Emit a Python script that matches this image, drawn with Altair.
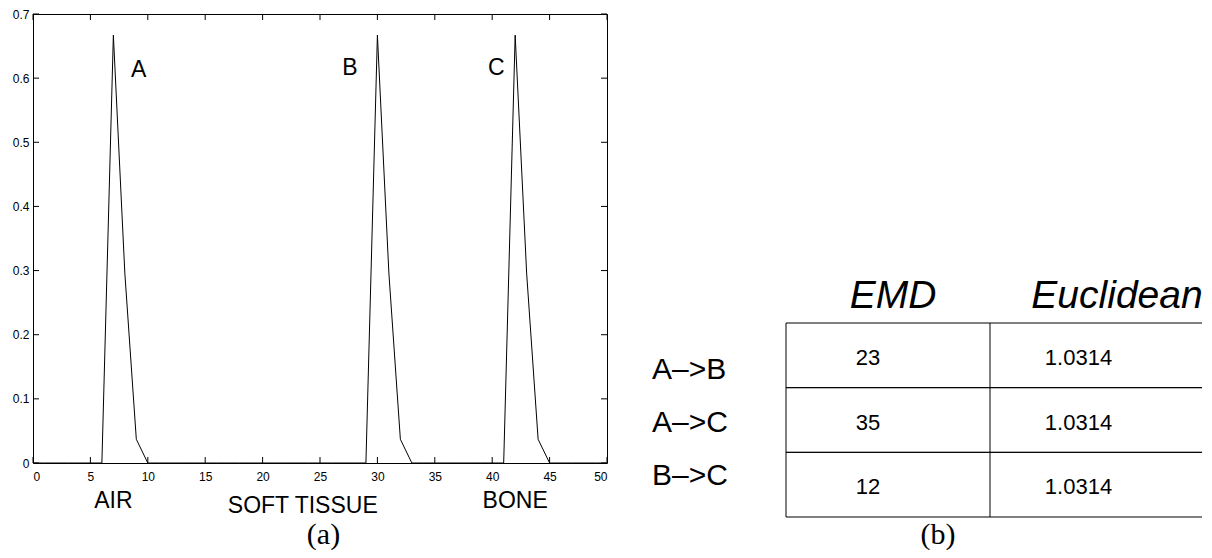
import altair as alt
import pandas as pd

# ---------------- data ----------------
bins = list(range(51))
freq = [0, 0, 0, 0, 0, 0, 0, 0.667, 0.296, 0.037, 0,      # 0-10
        0, 0, 0, 0, 0, 0, 0, 0, 0, 0,                     # 11-20
        0, 0, 0, 0, 0, 0, 0, 0, 0, 0.667,                 # 21-30
        0.296, 0.037, 0, 0, 0, 0, 0, 0, 0, 0,             # 31-40
        0, 0.667, 0.296, 0.037, 0, 0, 0, 0, 0, 0]         # 41-50

x_ticks = [0, 5, 10, 15, 20, 25, 30, 35, 40, 45, 50]
y_ticks = [0, 0.1, 0.2, 0.3, 0.4, 0.5, 0.6, 0.7]

peak_names = ["A", "B", "C"]
peak_label_x = [9.2, 27.6, 40.35]
peak_label_y = [0.602, 0.605, 0.605]

regions = ["AIR", "SOFT TISSUE", "BONE"]
region_x = [7, 23.5, 42]

pairs = ["A\u2013>B", "A\u2013>C", "B\u2013>C"]
columns = ["EMD", "Euclidean"]
emd_values = ["23", "35", "12"]
euclid_values = ["1.0314", "1.0314", "1.0314"]

# ---------------- styling ----------------
SANS = "Liberation Sans"
SERIF = "Liberation Serif"
W, H = 574, 449

xs = alt.Scale(domain=[0, 50], nice=False, zero=False)
ys = alt.Scale(domain=[0, 0.7], nice=False)
xaxis = alt.Axis(values=x_ticks, ticks=False, domain=False, grid=False, labelFontSize=12,
                 labelPadding=8, labelFont=SANS, labelColor="black", title=None)
yaxis = alt.Axis(values=y_ticks, format="~g", ticks=False, domain=False, grid=False,
                 labelFontSize=12, labelPadding=4, labelFont=SANS, labelColor="black", title=None)

hist_df = pd.DataFrame({"bin": bins, "freq": freq})
line = alt.Chart(hist_df).mark_line(color="black", strokeWidth=1).encode(
    x=alt.X("bin:Q", scale=xs, axis=xaxis),
    y=alt.Y("freq:Q", scale=ys, axis=yaxis),
)

xt = pd.DataFrame({"t": x_ticks})
yt = pd.DataFrame({"t": y_ticks})
tick_b = alt.Chart(xt).mark_rule(color="black", strokeWidth=1).encode(
    x=alt.X("t:Q", scale=xs, axis=xaxis), y=alt.value(H), y2=alt.value(H - 6))
tick_t = alt.Chart(xt).mark_rule(color="black", strokeWidth=1).encode(
    x=alt.X("t:Q", scale=xs, axis=xaxis), y=alt.value(0), y2=alt.value(6))
tick_l = alt.Chart(yt).mark_rule(color="black", strokeWidth=1).encode(
    y=alt.Y("t:Q", scale=ys, axis=yaxis), x=alt.value(0), x2=alt.value(6))
tick_r = alt.Chart(yt).mark_rule(color="black", strokeWidth=1).encode(
    y=alt.Y("t:Q", scale=ys, axis=yaxis), x=alt.value(W), x2=alt.value(W - 6))

pk_df = pd.DataFrame({"name": peak_names, "x": peak_label_x, "y": peak_label_y})
peak_text = alt.Chart(pk_df).mark_text(font=SANS, fontSize=23, align="center",
                                       baseline="alphabetic", color="black").encode(
    x=alt.X("x:Q", scale=xs, axis=xaxis), y=alt.Y("y:Q", scale=ys, axis=yaxis), text="name:N")

rg_df = pd.DataFrame({"name": regions, "x": region_x})
region_text = alt.Chart(rg_df).transform_filter(alt.datum.name != "SOFT TISSUE").mark_text(
    font=SANS, fontSize=23, align="center", baseline="alphabetic", color="black").encode(
    x=alt.X("x:Q", scale=xs, axis=xaxis), y=alt.value(494), text="name:N")
region_text2 = alt.Chart(rg_df).transform_filter(alt.datum.name == "SOFT TISSUE").mark_text(
    font=SANS, fontSize=23, align="center", baseline="alphabetic", color="black").encode(
    x=alt.X("x:Q", scale=xs, axis=xaxis), y=alt.value(499), text="name:N")

cap_a = alt.Chart(pd.DataFrame({"t": ["(a)"]})).mark_text(
    font=SERIF, fontSize=30, align="center", baseline="alphabetic", color="black").encode(
    x=alt.value(290.5), y=alt.value(530), text="t:N")

plot = alt.layer(line, tick_b, tick_t, tick_l, tick_r, peak_text, region_text, region_text2, cap_a)

# ---------------- table ----------------
xb = alt.Scale(type="band", domain=columns, range=[753, 1161], paddingInner=0, paddingOuter=0)
yb = alt.Scale(type="band", domain=pairs, range=[309, 503], paddingInner=0, paddingOuter=0)

rows_df = pd.DataFrame({"row": pairs})
cols_df = pd.DataFrame({"col": columns})
cells_df = pd.DataFrame({
    "row": pairs + pairs,
    "col": [columns[0]] * 3 + [columns[1]] * 3,
    "value": emd_values + euclid_values,
})

hl_top = alt.Chart(rows_df).mark_rule(color="black", strokeWidth=1).encode(
    y=alt.Y("row:N", scale=yb, bandPosition=0, axis=None), x=alt.value(753), x2=alt.value(1169))
hl_bot = alt.Chart(rows_df).mark_rule(color="black", strokeWidth=1).encode(
    y=alt.Y("row:N", scale=yb, bandPosition=1, axis=None), x=alt.value(753), x2=alt.value(1169))
vlines = alt.Chart(cols_df).mark_rule(color="black", strokeWidth=1).encode(
    x=alt.X("col:N", scale=xb, bandPosition=0, axis=None), y=alt.value(309), y2=alt.value(503))

emd_text = alt.Chart(cells_df).transform_filter(alt.datum.col == "EMD").mark_text(
    font=SANS, fontSize=22, dx=-20, dy=2.5, baseline="middle", align="center", color="black").encode(
    x=alt.X("col:N", scale=xb, bandPosition=0.5, axis=None),
    y=alt.Y("row:N", scale=yb, bandPosition=0.5, axis=None), text="value:N")
euc_text = alt.Chart(cells_df).transform_filter(alt.datum.col == "Euclidean").mark_text(
    font=SANS, fontSize=22, dx=-13.5, dy=2.5, baseline="middle", align="center", color="black").encode(
    x=alt.X("col:N", scale=xb, bandPosition=0.5, axis=None),
    y=alt.Y("row:N", scale=yb, bandPosition=0.5, axis=None), text="value:N")

hdr1 = alt.Chart(cols_df).transform_filter(alt.datum.col == "EMD").mark_text(
    font=SANS, fontSize=39, fontStyle="italic", dx=5, baseline="alphabetic", align="center",
    color="black").encode(
    x=alt.X("col:N", scale=xb, bandPosition=0.5, axis=None), y=alt.value(294), text="col:N")
hdr2 = alt.Chart(cols_df).transform_filter(alt.datum.col == "Euclidean").mark_text(
    font=SANS, fontSize=39, fontStyle="italic", dx=25, baseline="alphabetic", align="center",
    color="black").encode(
    x=alt.X("col:N", scale=xb, bandPosition=0.5, axis=None), y=alt.value(294), text="col:N")

cap_b = alt.Chart(pd.DataFrame({"t": ["(b)"]})).mark_text(
    font=SERIF, fontSize=30, align="center", baseline="alphabetic", color="black").encode(
    x=alt.value(905), y=alt.value(530), text="t:N")

table = alt.layer(hl_top, hl_bot, vlines, emd_text, euc_text, hdr1, hdr2, cap_b)

yp = alt.Scale(type="point", domain=pairs, range=[365, 471], padding=0)
row_text = alt.Chart(rows_df).mark_text(font=SANS, fontSize=30, align="left",
                                        baseline="alphabetic", color="black").encode(
    x=alt.value(619), y=alt.Y("row:N", scale=yp, axis=None), text="row:N")
rowlab = alt.layer(row_text)

chart = alt.layer(plot, table, rowlab).resolve_scale(
    x="independent", y="independent"
).properties(
    width=W, height=H,
    padding={"left": 4, "top": 0, "right": 0, "bottom": 0},
    background="white",
).configure_view(stroke="black", strokeWidth=1)

chart.save("out.html", embed_options={"renderer": "svg", "actions": False})
